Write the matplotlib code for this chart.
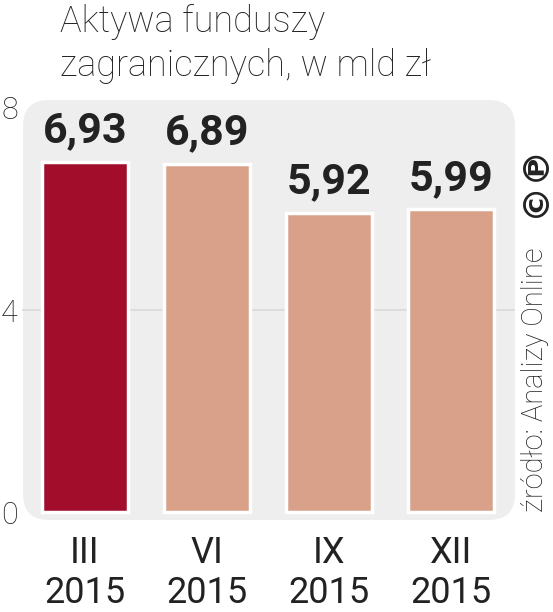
import matplotlib
matplotlib.use("Agg")
import matplotlib.pyplot as plt
from matplotlib.patches import FancyBboxPatch
import matplotlib.patheffects as pe

# dane
okresy = ["III\n2015", "VI\n2015", "IX\n2015", "XII\n2015"]
wartosci = [6.93, 6.89, 5.92, 5.99]
etykiety = ["6,93", "6,89", "5,92", "5,99"]
kolory = ["#a20d2c", "#d9a18a", "#d9a18a", "#d9a18a"]
yticks = [0, 4, 8]

plt.rcParams['font.family'] = ['Roboto', 'DejaVu Sans']
TXT = "#222222"

fig = plt.figure(figsize=(5.53, 6.12), dpi=100)
fig.patch.set_facecolor("white")

# tlo z zaokraglonymi rogami (w calach, zeby rogi byly okragle)
tlo = FancyBboxPatch((0.23, 0.92), 4.92, 4.20,
                     boxstyle="round,pad=0,rounding_size=0.26",
                     transform=fig.dpi_scale_trans,
                     facecolor="#eeeeee", edgecolor="none", zorder=-5)
fig.patches.append(tlo)

ax = fig.add_axes([22 / 553, 92 / 612, 493 / 553, 420 / 612])
ax.set_zorder(2)
ax.patch.set_alpha(0)
ax.set_xlim(-0.516, 3.525)
ax.set_ylim(-0.158, 8.158)

ax.axhline(4, color="#d9d9d9", lw=1.2, zorder=1)

x = range(len(wartosci))
slupki = ax.bar(x, wartosci, width=0.71, color=kolory, edgecolor="white",
                linewidth=2.5, zorder=3)
for s in slupki:
    s.set_path_effects([pe.SimplePatchShadow(offset=(1.5, -1.5),
                                             shadow_rgbFace="#999999", alpha=0.5),
                        pe.Normal()])

for xi, v, t in zip(x, wartosci, etykiety):
    ax.annotate(t, (xi, v), xytext=(0, 14), textcoords="offset points",
                ha="center", va="baseline", fontsize=31, fontweight="bold",
                color=TXT, zorder=5)

for s in ["top", "right", "left", "bottom"]:
    ax.spines[s].set_visible(False)
ax.set_yticks(yticks)
ax.set_yticklabels([str(t) for t in yticks], fontsize=22, fontweight="light", color=TXT)
ax.tick_params(axis="y", length=0, pad=3)
ax.set_xticks(list(x))
ax.set_xticklabels(okresy, fontsize=26, color=TXT, linespacing=1.15)
ax.tick_params(axis="x", length=0, pad=11)

fig.text(60 / 553, 1 - 4 / 612, "Aktywa funduszy\nzagranicznych, w mld zł",
         fontsize=26, fontweight="light", color=TXT, ha="left", va="top",
         linespacing=1.3)

fig.text(535 / 553, 1 - 512 / 612, "źródło: Analizy Online", rotation=90,
         fontsize=21, fontweight="light", color=TXT, ha="center", va="bottom")
fig.text(535 / 553, 1 - 217 / 612, "©℗", rotation=90,
         fontsize=26, fontweight="bold", color=TXT, ha="center", va="bottom",
         family=["DejaVu Sans"])

fig.savefig("out.png", dpi=100, facecolor="white")
